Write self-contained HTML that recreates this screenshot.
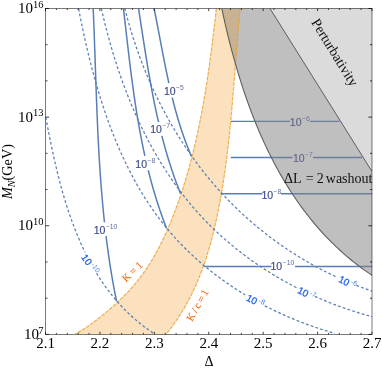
<!DOCTYPE html>
<html><head><meta charset="utf-8"><title>plot</title>
<style>html,body{margin:0;padding:0;background:#fff;width:382px;height:370px;overflow:hidden;font-family:"Liberation Sans",sans-serif}</style>
</head><body>
<svg width="382" height="370" viewBox="0 0 382 370" style="position:absolute;left:0;top:0;will-change:transform">
<defs><clipPath id="cp"><rect x="45.50" y="8.50" width="326.50" height="325.90"/></clipPath></defs>
<g clip-path="url(#cp)">
<path d="M216.33,8.61 L216.00,11.61 L215.66,14.61 L215.32,17.61 L214.98,20.61 L214.63,23.62 L214.28,26.62 L213.93,29.62 L213.57,32.63 L213.21,35.63 L212.84,38.64 L212.47,41.64 L212.10,44.64 L211.72,47.65 L211.33,50.65 L210.94,53.66 L210.54,56.66 L210.14,59.67 L209.73,62.67 L209.31,65.67 L208.88,68.67 L208.45,71.67 L208.01,74.67 L207.57,77.67 L207.11,80.67 L206.65,83.66 L206.18,86.66 L205.70,89.65 L205.21,92.64 L204.71,95.63 L204.20,98.62 L203.69,101.61 L203.16,104.59 L202.62,107.57 L202.07,110.55 L201.52,113.53 L200.95,116.50 L200.37,119.48 L199.77,122.45 L199.17,125.41 L198.55,128.38 L197.93,131.34 L197.29,134.30 L196.63,137.25 L195.97,140.20 L195.29,143.15 L194.59,146.10 L193.89,149.04 L193.17,151.98 L192.43,154.91 L191.68,157.84 L190.92,160.77 L190.14,163.69 L189.35,166.61 L188.54,169.52 L187.71,172.43 L186.87,175.33 L186.02,178.23 L185.14,181.13 L184.25,184.02 L183.35,186.90 L182.42,189.79 L181.48,192.66 L180.52,195.53 L179.55,198.40 L178.55,201.26 L177.54,204.11 L176.50,206.96 L175.45,209.80 L174.38,212.64 L173.29,215.47 L172.18,218.29 L171.05,221.11 L169.90,223.92 L168.72,226.71 L167.52,229.50 L166.30,232.27 L165.05,235.04 L163.77,237.78 L162.46,240.52 L161.13,243.24 L159.77,245.94 L158.37,248.62 L156.95,251.29 L155.50,253.93 L154.01,256.56 L152.48,259.16 L150.93,261.74 L149.34,264.30 L147.71,266.83 L146.04,269.34 L144.34,271.82 L142.59,274.27 L140.81,276.70 L138.98,279.09 L137.12,281.46 L135.21,283.79 L133.25,286.09 L131.26,288.36 L129.22,290.60 L127.14,292.80 L125.02,294.98 L122.87,297.12 L120.69,299.24 L118.48,301.33 L116.25,303.39 L113.99,305.43 L111.71,307.45 L109.41,309.44 L107.09,311.41 L104.76,313.36 L102.42,315.29 L100.07,317.20 L97.70,319.08 L95.31,320.93 L92.90,322.74 L90.47,324.51 L88.00,326.24 L85.51,327.92 L82.98,329.54 L80.42,331.11 L77.81,332.62 L75.17,334.06 L165.48,334.96 L167.44,332.55 L169.36,330.12 L171.23,327.67 L173.06,325.20 L174.84,322.71 L176.58,320.19 L178.28,317.66 L179.93,315.11 L181.54,312.54 L183.12,309.95 L184.65,307.34 L186.15,304.71 L187.60,302.07 L189.02,299.40 L190.40,296.73 L191.75,294.03 L193.05,291.32 L194.33,288.59 L195.57,285.85 L196.78,283.10 L197.95,280.33 L199.09,277.55 L200.20,274.75 L201.29,271.94 L202.34,269.12 L203.36,266.29 L204.35,263.44 L205.32,260.59 L206.25,257.72 L207.17,254.85 L208.05,251.96 L208.92,249.06 L209.75,246.16 L210.57,243.25 L211.36,240.33 L212.13,237.40 L212.88,234.46 L213.60,231.52 L214.31,228.57 L215.00,225.62 L215.67,222.66 L216.32,219.69 L216.96,216.72 L217.58,213.75 L218.18,210.77 L218.77,207.79 L219.35,204.80 L219.91,201.82 L220.45,198.83 L220.99,195.83 L221.51,192.84 L222.01,189.84 L222.51,186.84 L222.99,183.84 L223.46,180.83 L223.92,177.82 L224.36,174.81 L224.80,171.80 L225.22,168.79 L225.64,165.77 L226.04,162.75 L226.44,159.73 L226.82,156.71 L227.19,153.69 L227.56,150.67 L227.92,147.64 L228.26,144.62 L228.60,141.59 L228.94,138.56 L229.26,135.54 L229.58,132.51 L229.89,129.48 L230.19,126.45 L230.49,123.42 L230.78,120.38 L231.06,117.35 L231.34,114.32 L231.61,111.29 L231.88,108.26 L232.15,105.23 L232.40,102.19 L232.66,99.16 L232.91,96.13 L233.16,93.10 L233.40,90.07 L233.64,87.04 L233.88,84.02 L234.12,80.99 L234.35,77.96 L234.59,74.94 L234.82,71.91 L235.05,68.89 L235.28,65.87 L235.51,62.85 L235.73,59.83 L235.96,56.82 L236.19,53.80 L236.42,50.79 L236.65,47.78 L236.88,44.77 L237.11,41.76 L237.34,38.76 L237.58,35.76 L237.82,32.76 L238.06,29.76 L238.30,26.77 L238.55,23.77 L238.80,20.79 L239.05,17.80 L239.31,14.82 L239.58,11.84 L239.84,8.86 Z" fill="#f5b45a" fill-opacity="0.40" stroke="none"/>
<path d="M216.33,8.61 L216.00,11.61 L215.66,14.61 L215.32,17.61 L214.98,20.61 L214.63,23.62 L214.28,26.62 L213.93,29.62 L213.57,32.63 L213.21,35.63 L212.84,38.64 L212.47,41.64 L212.10,44.64 L211.72,47.65 L211.33,50.65 L210.94,53.66 L210.54,56.66 L210.14,59.67 L209.73,62.67 L209.31,65.67 L208.88,68.67 L208.45,71.67 L208.01,74.67 L207.57,77.67 L207.11,80.67 L206.65,83.66 L206.18,86.66 L205.70,89.65 L205.21,92.64 L204.71,95.63 L204.20,98.62 L203.69,101.61 L203.16,104.59 L202.62,107.57 L202.07,110.55 L201.52,113.53 L200.95,116.50 L200.37,119.48 L199.77,122.45 L199.17,125.41 L198.55,128.38 L197.93,131.34 L197.29,134.30 L196.63,137.25 L195.97,140.20 L195.29,143.15 L194.59,146.10 L193.89,149.04 L193.17,151.98 L192.43,154.91 L191.68,157.84 L190.92,160.77 L190.14,163.69 L189.35,166.61 L188.54,169.52 L187.71,172.43 L186.87,175.33 L186.02,178.23 L185.14,181.13 L184.25,184.02 L183.35,186.90 L182.42,189.79 L181.48,192.66 L180.52,195.53 L179.55,198.40 L178.55,201.26 L177.54,204.11 L176.50,206.96 L175.45,209.80 L174.38,212.64 L173.29,215.47 L172.18,218.29 L171.05,221.11 L169.90,223.92 L168.72,226.71 L167.52,229.50 L166.30,232.27 L165.05,235.04 L163.77,237.78 L162.46,240.52 L161.13,243.24 L159.77,245.94 L158.37,248.62 L156.95,251.29 L155.50,253.93 L154.01,256.56 L152.48,259.16 L150.93,261.74 L149.34,264.30 L147.71,266.83 L146.04,269.34 L144.34,271.82 L142.59,274.27 L140.81,276.70 L138.98,279.09 L137.12,281.46 L135.21,283.79 L133.25,286.09 L131.26,288.36 L129.22,290.60 L127.14,292.80 L125.02,294.98 L122.87,297.12 L120.69,299.24 L118.48,301.33 L116.25,303.39 L113.99,305.43 L111.71,307.45 L109.41,309.44 L107.09,311.41 L104.76,313.36 L102.42,315.29 L100.07,317.20 L97.70,319.08 L95.31,320.93 L92.90,322.74 L90.47,324.51 L88.00,326.24 L85.51,327.92 L82.98,329.54 L80.42,331.11 L77.81,332.62 L75.17,334.06" fill="none" stroke="#eeae52" stroke-width="1.2" stroke-dasharray="3.8 1.1"/>
<path d="M239.84,8.86 L239.58,11.84 L239.31,14.82 L239.05,17.80 L238.80,20.79 L238.55,23.77 L238.30,26.77 L238.06,29.76 L237.82,32.76 L237.58,35.76 L237.34,38.76 L237.11,41.76 L236.88,44.77 L236.65,47.78 L236.42,50.79 L236.19,53.80 L235.96,56.82 L235.73,59.83 L235.51,62.85 L235.28,65.87 L235.05,68.89 L234.82,71.91 L234.59,74.94 L234.35,77.96 L234.12,80.99 L233.88,84.02 L233.64,87.04 L233.40,90.07 L233.16,93.10 L232.91,96.13 L232.66,99.16 L232.40,102.19 L232.15,105.23 L231.88,108.26 L231.61,111.29 L231.34,114.32 L231.06,117.35 L230.78,120.38 L230.49,123.42 L230.19,126.45 L229.89,129.48 L229.58,132.51 L229.26,135.54 L228.94,138.56 L228.60,141.59 L228.26,144.62 L227.92,147.64 L227.56,150.67 L227.19,153.69 L226.82,156.71 L226.44,159.73 L226.04,162.75 L225.64,165.77 L225.22,168.79 L224.80,171.80 L224.36,174.81 L223.92,177.82 L223.46,180.83 L222.99,183.84 L222.51,186.84 L222.01,189.84 L221.51,192.84 L220.99,195.83 L220.45,198.83 L219.91,201.82 L219.35,204.80 L218.77,207.79 L218.18,210.77 L217.58,213.75 L216.96,216.72 L216.32,219.69 L215.67,222.66 L215.00,225.62 L214.31,228.57 L213.60,231.52 L212.88,234.46 L212.13,237.40 L211.36,240.33 L210.57,243.25 L209.75,246.16 L208.92,249.06 L208.05,251.96 L207.17,254.85 L206.25,257.72 L205.32,260.59 L204.35,263.44 L203.36,266.29 L202.34,269.12 L201.29,271.94 L200.20,274.75 L199.09,277.55 L197.95,280.33 L196.78,283.10 L195.57,285.85 L194.33,288.59 L193.05,291.32 L191.75,294.03 L190.40,296.73 L189.02,299.40 L187.60,302.07 L186.15,304.71 L184.65,307.34 L183.12,309.95 L181.54,312.54 L179.93,315.11 L178.28,317.66 L176.58,320.19 L174.84,322.71 L173.06,325.20 L171.23,327.67 L169.36,330.12 L167.44,332.55 L165.48,334.96" fill="none" stroke="#eeae52" stroke-width="1.2" stroke-dasharray="3.8 1.1"/>
<path d="M93.18,8.62 L93.23,9.82 L93.28,11.02 L93.33,12.22 L93.38,13.42 L93.43,14.61 L93.48,15.81 L93.53,17.01 L93.58,18.21 L93.63,19.41 L93.68,20.61 L93.73,21.81 L93.77,23.01 L93.82,24.21 L93.87,25.41 L93.92,26.60 L93.96,27.80 L94.01,29.00 L94.05,30.20 L94.10,31.40 L94.14,32.60 L94.19,33.80 L94.23,35.00 L94.28,36.20 L94.32,37.40 L94.36,38.60 L94.41,39.80 L94.45,40.99 L94.49,42.19 L94.54,43.39 L94.58,44.59 L94.62,45.79 L94.66,46.99 L94.71,48.19 L94.75,49.39 L94.79,50.59 L94.83,51.79 L94.87,52.99 L94.91,54.19 L94.95,55.39 L95.00,56.59 L95.04,57.78 L95.08,58.98 L95.12,60.18 L95.16,61.38 L95.20,62.58 L95.24,63.78 L95.28,64.98 L95.32,66.18 L95.36,67.38 L95.41,68.58 L95.45,69.78 L95.49,70.98 L95.53,72.18 L95.57,73.38 L95.61,74.57 L95.65,75.77 L95.69,76.97 L95.73,78.17 L95.78,79.37 L95.82,80.57 L95.86,81.77 L95.90,82.97 L95.94,84.17 L95.98,85.37 L96.03,86.57 L96.07,87.77 L96.11,88.97 L96.15,90.17 L96.20,91.36 L96.24,92.56 L96.28,93.76 L96.33,94.96 L96.37,96.16 L96.42,97.36 L96.46,98.56 L96.51,99.76 L96.55,100.96 L96.60,102.16 L96.64,103.36 L96.69,104.56 L96.73,105.75 L96.78,106.95 L96.83,108.15 L96.88,109.35 L96.92,110.55 L96.97,111.75 L97.02,112.95 L97.07,114.15 L97.12,115.35 L97.17,116.55 L97.22,117.74 L97.27,118.94 L97.32,120.14 L97.37,121.34 L97.42,122.54 L97.48,123.74 L97.53,124.94 L97.58,126.14 L97.64,127.34 L97.69,128.53 L97.75,129.73 L97.80,130.93 L97.86,132.13 L97.92,133.33 L97.97,134.53 L98.03,135.73 L98.09,136.92 L98.15,138.12 L98.21,139.32 L98.27,140.52 L98.33,141.72 L98.39,142.92 L98.46,144.12 L98.52,145.31 L98.58,146.51 L98.65,147.71 L98.71,148.91 L98.78,150.11 L98.84,151.30 L98.91,152.50 L98.98,153.70 L99.05,154.90 L99.12,156.10 L99.19,157.29 L99.26,158.49 L99.33,159.69 L99.40,160.89 L99.48,162.09 L99.55,163.28 L99.63,164.48 L99.70,165.68 L99.78,166.88 L99.86,168.07 L99.94,169.27 L100.02,170.47 L100.10,171.67 L100.18,172.86 L100.26,174.06 L100.34,175.26 L100.43,176.45 L100.51,177.65 L100.60,178.85 L100.69,180.05 L100.78,181.24 L100.87,182.44 L100.96,183.64 L101.05,184.83 L101.14,186.03 L101.23,187.22 L101.33,188.42 L101.42,189.62 L101.52,190.81 L101.62,192.01 L101.71,193.21 L101.81,194.40 L101.91,195.60 L102.02,196.79 L102.12,197.99 L102.22,199.18 L102.33,200.38 L102.44,201.57 L102.54,202.77 L102.65,203.96 L102.76,205.16 L102.87,206.35 L102.99,207.55 L103.10,208.74 L103.21,209.94 L103.33,211.13 L103.45,212.33 L103.57,213.52 L103.69,214.71 L103.81,215.91 L103.93,217.10 L104.05,218.30 L104.18,219.49 L104.30,220.68 L104.43,221.88 L104.48,222.27 M106.07,236.18 L106.22,237.37 L106.37,238.56 L106.52,239.75 L106.67,240.95 L106.82,242.14 L106.97,243.33 L107.13,244.52 L107.28,245.71 L107.44,246.90 L107.60,248.08 L107.76,249.27 L107.92,250.46 L108.09,251.65 L108.26,252.84 L108.42,254.03 L108.59,255.22 L108.76,256.40 L108.94,257.59 L109.11,258.78 L109.29,259.97 L109.46,261.15 L109.64,262.34 L109.82,263.52 L110.01,264.71 L110.19,265.90 L110.38,267.08 L110.56,268.27 L110.75,269.45 L110.95,270.64 L111.14,271.82 L111.33,273.01 L111.53,274.19 L111.73,275.37 L111.93,276.56 L112.13,277.74 L112.33,278.92 L112.54,280.10 L112.75,281.29 L112.96,282.47 L113.17,283.65 L113.38,284.83 L113.59,286.01 L113.81,287.19 L114.03,288.37 L114.25,289.55 L114.47,290.73 L114.70,291.91 L114.92,293.09 L115.15,294.26 L115.38,295.44 L115.61,296.62 L115.85,297.80 L116.08,298.97 L116.32,300.15 L116.56,301.33 L116.56,301.33" fill="none" stroke="#587eb6" stroke-width="1.5"/>
<path d="M123.46,8.63 L123.60,9.83 L123.74,11.02 L123.88,12.21 L124.02,13.40 L124.15,14.59 L124.29,15.79 L124.43,16.98 L124.57,18.17 L124.70,19.36 L124.84,20.56 L124.97,21.75 L125.11,22.94 L125.25,24.13 L125.38,25.32 L125.52,26.52 L125.66,27.71 L125.79,28.90 L125.93,30.09 L126.07,31.29 L126.20,32.48 L126.34,33.67 L126.48,34.86 L126.61,36.05 L126.75,37.25 L126.89,38.44 L127.02,39.63 L127.16,40.82 L127.30,42.01 L127.44,43.21 L127.58,44.40 L127.71,45.59 L127.85,46.78 L127.99,47.97 L128.13,49.17 L128.27,50.36 L128.41,51.55 L128.56,52.74 L128.70,53.93 L128.84,55.12 L128.98,56.32 L129.12,57.51 L129.27,58.70 L129.41,59.89 L129.56,61.08 L129.70,62.27 L129.85,63.46 L130.00,64.65 L130.14,65.85 L130.29,67.04 L130.44,68.23 L130.59,69.42 L130.74,70.61 L130.89,71.80 L131.04,72.99 L131.19,74.18 L131.35,75.37 L131.50,76.56 L131.66,77.75 L131.81,78.94 L131.97,80.13 L132.13,81.32 L132.29,82.51 L132.45,83.70 L132.61,84.89 L132.77,86.08 L132.93,87.26 L133.10,88.45 L133.26,89.64 L133.43,90.83 L133.59,92.02 L133.76,93.21 L133.93,94.39 L134.10,95.58 L134.27,96.77 L134.45,97.96 L134.62,99.14 L134.80,100.33 L134.97,101.52 L135.15,102.71 L135.33,103.89 L135.51,105.08 L135.69,106.26 L135.88,107.45 L136.06,108.64 L136.25,109.82 L136.44,111.01 L136.63,112.19 L136.82,113.38 L137.01,114.56 L137.20,115.74 L137.40,116.93 L137.60,118.11 L137.80,119.30 L138.00,120.48 L138.20,121.66 L138.40,122.84 L138.61,124.03 L138.81,125.21 L139.02,126.39 L139.23,127.57 L139.45,128.75 L139.66,129.93 L139.88,131.11 L140.09,132.29 L140.31,133.47 L140.53,134.65 L140.76,135.83 L140.98,137.01 L141.21,138.19 L141.44,139.37 L141.67,140.54 L141.90,141.72 L142.14,142.90 L142.37,144.08 L142.61,145.25 L142.86,146.43 L143.10,147.60 L143.34,148.78 L143.59,149.95 L143.84,151.12 L144.09,152.30 L144.35,153.47 L144.60,154.64 L144.86,155.81 L144.86,155.81 M148.24,170.22 L148.53,171.39 L148.83,172.55 L149.12,173.71 L149.42,174.88 L149.72,176.04 L150.02,177.20 L150.33,178.36 L150.64,179.52 L150.95,180.68 L151.26,181.84 L151.58,182.99 L151.90,184.15 L152.22,185.31 L152.55,186.46 L152.87,187.62 L153.20,188.77 L153.54,189.92 L153.87,191.07 L154.21,192.22 L154.56,193.38 L154.90,194.53 L155.25,195.67 L155.60,196.82 L155.95,197.97 L156.31,199.11 L156.67,200.26 L157.03,201.40 L157.40,202.55 L157.76,203.69 L158.14,204.83 L158.51,205.97 L158.89,207.11 L159.27,208.25 L159.65,209.38 L160.04,210.52 L160.43,211.65 L160.82,212.79 L161.22,213.92 L161.62,215.05 L162.02,216.18 L162.43,217.31 L162.84,218.44 L163.25,219.56 L163.67,220.69 L164.09,221.81 L164.51,222.94 L164.94,224.06 L165.37,225.18 L165.80,226.30 L166.23,227.42 L166.67,228.53 L166.67,228.53" fill="none" stroke="#587eb6" stroke-width="1.5"/>
<path d="M138.55,8.62 L138.73,9.81 L138.92,10.99 L139.10,12.18 L139.28,13.36 L139.47,14.55 L139.65,15.74 L139.83,16.92 L140.02,18.11 L140.20,19.29 L140.38,20.48 L140.57,21.67 L140.75,22.85 L140.93,24.04 L141.11,25.22 L141.30,26.41 L141.48,27.60 L141.66,28.78 L141.84,29.97 L142.03,31.15 L142.21,32.34 L142.39,33.53 L142.58,34.71 L142.76,35.90 L142.94,37.08 L143.13,38.27 L143.31,39.46 L143.50,40.64 L143.68,41.83 L143.87,43.01 L144.05,44.20 L144.24,45.38 L144.43,46.57 L144.61,47.75 L144.80,48.94 L144.99,50.12 L145.18,51.31 L145.37,52.49 L145.56,53.68 L145.75,54.86 L145.94,56.05 L146.13,57.23 L146.33,58.42 L146.52,59.60 L146.71,60.79 L146.91,61.97 L147.10,63.15 L147.30,64.34 L147.50,65.52 L147.70,66.70 L147.90,67.89 L148.10,69.07 L148.30,70.25 L148.50,71.44 L148.70,72.62 L148.91,73.80 L149.11,74.98 L149.32,76.17 L149.53,77.35 L149.74,78.53 L149.95,79.71 L150.16,80.89 L150.37,82.07 L150.59,83.25 L150.80,84.44 L151.02,85.62 L151.23,86.80 L151.45,87.98 L151.67,89.15 L151.89,90.33 L152.12,91.51 L152.34,92.69 L152.57,93.87 L152.80,95.05 L153.03,96.23 L153.26,97.40 L153.49,98.58 L153.72,99.76 L153.96,100.94 L154.20,102.11 L154.43,103.29 L154.68,104.46 L154.92,105.64 L155.16,106.81 L155.41,107.99 L155.66,109.16 L155.91,110.34 L156.16,111.51 L156.41,112.68 L156.67,113.85 L156.92,115.03 L157.18,116.20 L157.44,117.37 L157.71,118.54 L157.97,119.71 L158.24,120.88 L158.51,122.05 L158.51,122.05 M161.92,136.04 L162.22,137.20 L162.52,138.36 L162.82,139.52 L163.13,140.68 L163.44,141.84 L163.75,143.00 L164.06,144.16 L164.38,145.32 L164.70,146.48 L165.02,147.63 L165.35,148.79 L165.67,149.94 L166.00,151.09 L166.34,152.25 L166.67,153.40 L167.01,154.55 L167.35,155.70 L167.70,156.85 L168.05,158.00 L168.40,159.15 L168.75,160.29 L169.11,161.44 L169.46,162.58 L169.83,163.73 L170.19,164.87 L170.56,166.01 L170.93,167.16 L171.30,168.30 L171.68,169.43 L172.06,170.57 L172.45,171.71 L172.83,172.85 L173.22,173.98 L173.62,175.11 L174.01,176.25 L174.41,177.38 L174.82,178.51 L175.22,179.64 L175.63,180.76 L176.05,181.89 L176.46,183.02 L176.88,184.14 L177.30,185.26 L177.73,186.39 L178.16,187.51 L178.60,188.63 L179.03,189.74 L179.47,190.86 L179.92,191.97 L180.37,193.09 L180.67,193.83" fill="none" stroke="#587eb6" stroke-width="1.5"/>
<path d="M154.09,8.61 L154.33,9.78 L154.57,10.96 L154.81,12.13 L155.04,13.31 L155.28,14.49 L155.51,15.66 L155.75,16.84 L155.98,18.02 L156.21,19.20 L156.44,20.37 L156.67,21.55 L156.90,22.73 L157.13,23.91 L157.36,25.08 L157.59,26.26 L157.81,27.44 L158.04,28.62 L158.27,29.80 L158.49,30.98 L158.72,32.16 L158.94,33.33 L159.17,34.51 L159.39,35.69 L159.61,36.87 L159.84,38.05 L160.06,39.23 L160.29,40.41 L160.51,41.59 L160.74,42.77 L160.96,43.94 L161.18,45.12 L161.41,46.30 L161.63,47.48 L161.86,48.66 L162.09,49.84 L162.31,51.02 L162.54,52.19 L162.77,53.37 L163.00,54.55 L163.22,55.73 L163.45,56.91 L163.68,58.08 L163.92,59.26 L164.15,60.44 L164.38,61.62 L164.61,62.79 L164.85,63.97 L165.09,65.15 L165.32,66.32 L165.56,67.50 L165.80,68.67 L166.04,69.85 L166.28,71.03 L166.53,72.20 L166.77,73.38 L167.02,74.55 L167.27,75.72 L167.52,76.90 L167.77,78.07 L168.02,79.24 L168.27,80.42 L168.53,81.59 L168.79,82.76 L168.87,83.15 M172.24,97.56 L172.52,98.73 L172.81,99.89 L173.11,101.06 L173.40,102.22 L173.70,103.38 L174.00,104.54 L174.31,105.71 L174.61,106.87 L174.92,108.02 L175.24,109.18 L175.55,110.34 L175.87,111.50 L176.19,112.65 L176.52,113.81 L176.85,114.96 L177.17,116.12 L177.51,117.27 L177.85,118.42 L178.19,119.57 L178.54,120.72 L178.88,121.87 L179.24,123.02 L179.59,124.16 L179.95,125.31 L180.31,126.45 L180.68,127.59 L181.05,128.74 L181.42,129.88 L181.80,131.01 L182.18,132.15 L182.57,133.29 L182.96,134.42 L183.35,135.56 L183.75,136.69 L184.15,137.82 L184.56,138.95 L184.97,140.08 L185.38,141.20 L185.80,142.33 L186.23,143.45 L186.65,144.57 L187.08,145.69 L187.52,146.81 L187.96,147.93 L188.41,149.04 L188.86,150.15 L189.31,151.26 L189.77,152.37 L190.23,153.48 L190.70,154.58 L191.18,155.68 L191.49,156.42" fill="none" stroke="#587eb6" stroke-width="1.5"/>
<path d="M231.00,121.40 H290.00 M309.80,121.40 H339.50" fill="none" stroke="#587eb6" stroke-width="1.4"/>
<path d="M230.70,157.50 H292.60 M313.00,157.50 H362.00" fill="none" stroke="#587eb6" stroke-width="1.4"/>
<path d="M220.80,193.70 H262.30 M281.00,193.70 H372.00" fill="none" stroke="#587eb6" stroke-width="1.4"/>
<path d="M204.20,266.50 H271.40 M295.00,266.50 H372.00" fill="none" stroke="#587eb6" stroke-width="1.4"/>
<path d="M45.79,117.45 L46.01,118.63 L46.23,119.81 L46.45,120.99 L46.68,122.16 L46.90,123.34 L47.13,124.52 L47.35,125.70 L47.58,126.88 L47.81,128.06 L48.04,129.24 L48.27,130.41 L48.50,131.59 L48.73,132.77 L48.96,133.95 L49.19,135.12 L49.43,136.30 L49.66,137.48 L49.90,138.65 L50.14,139.83 L50.38,141.00 L50.62,142.18 L50.86,143.36 L51.11,144.53 L51.35,145.70 L51.60,146.88 L51.85,148.05 L52.09,149.23 L52.34,150.40 L52.60,151.57 L52.85,152.75 L53.11,153.92 L53.36,155.09 L53.62,156.26 L53.88,157.43 L54.14,158.61 L54.41,159.78 L54.68,160.95 L54.94,162.12 L55.21,163.29 L55.48,164.45 L55.76,165.62 L56.03,166.79 L56.31,167.96 L56.59,169.13 L56.87,170.29 L57.16,171.46 L57.44,172.62 L57.73,173.79 L58.02,174.95 L58.31,176.12 L58.61,177.28 L58.90,178.44 L59.20,179.60 L59.50,180.77 L59.81,181.93 L60.12,183.09 L60.42,184.25 L60.73,185.41 L61.05,186.56 L61.37,187.72 L61.69,188.88 L62.01,190.03 L62.33,191.19 L62.66,192.34 L62.99,193.50 L63.32,194.65 L63.66,195.80 L64.00,196.95 L64.34,198.10 L64.68,199.25 L65.03,200.40 L65.38,201.55 L65.74,202.70 L66.09,203.84 L66.45,204.99 L66.81,206.13 L67.18,207.27 L67.55,208.41 L67.92,209.56 L68.30,210.69 L68.68,211.83 L69.06,212.97 L69.45,214.11 L69.83,215.24 L70.23,216.38 L70.62,217.51 L71.02,218.64 L71.43,219.77 L71.83,220.90 L72.25,222.03 L72.66,223.15 L73.08,224.28 L73.50,225.40 L73.92,226.52 L74.35,227.64 L74.79,228.76 L75.22,229.88 L75.67,231.00 L76.11,232.11 L76.56,233.22 L77.01,234.33 L77.47,235.44 L77.93,236.55 L78.39,237.66 L78.87,238.76 L79.34,239.86 L79.82,240.97 L80.30,242.06 L80.79,243.16 L81.28,244.26 L81.78,245.35 L82.27,246.44 L82.78,247.53 L83.29,248.61 L83.80,249.70 L84.32,250.78 L84.84,251.86 L85.02,252.22 M96.54,273.26 L97.17,274.28 L97.81,275.30 L98.45,276.32 L99.09,277.33 L99.75,278.34 L100.40,279.34 L101.06,280.34 L101.73,281.34 L102.41,282.33 L103.09,283.32 L103.77,284.31 L104.46,285.29 L105.16,286.26 L105.86,287.24 L106.56,288.21 L107.28,289.17 L107.99,290.14 L108.72,291.09 L109.45,292.05 L110.18,293.00 L110.92,293.94 L111.67,294.88 L112.42,295.81 L113.18,296.74 L113.94,297.67 L114.71,298.59 L115.49,299.51 L116.27,300.42 L117.05,301.32 L117.85,302.23 L118.65,303.12 L119.45,304.02 L120.26,304.90 L121.07,305.78 L121.89,306.66 L122.72,307.53 L123.55,308.39 L124.39,309.25 L125.23,310.10 L126.08,310.96 L126.93,311.79 L127.79,312.63 L128.66,313.46 L129.53,314.29 L130.40,315.11 L131.29,315.92 L132.17,316.73 L133.07,317.53 L133.97,318.33 L134.87,319.12 L135.78,319.90 L136.69,320.68 L137.61,321.45 L138.54,322.21 L139.46,322.98 L140.40,323.72 L141.34,324.47 L142.29,325.21 L143.24,325.94 L144.19,326.67 L145.15,327.39 L146.12,328.10 L147.09,328.81 L148.06,329.51 L149.04,330.20 L150.03,330.89 L151.02,331.56 L152.01,332.24 L153.01,332.90 L154.01,333.56 L154.68,334.00" fill="none" stroke="#587eb6" stroke-width="1.25" stroke-dasharray="2.8 2.2"/>
<path d="M78.62,8.79 L78.84,9.97 L79.07,11.14 L79.30,12.32 L79.53,13.50 L79.76,14.68 L80.00,15.85 L80.23,17.03 L80.46,18.21 L80.70,19.38 L80.94,20.56 L81.18,21.74 L81.42,22.91 L81.66,24.09 L81.90,25.26 L82.15,26.44 L82.39,27.61 L82.64,28.79 L82.89,29.96 L83.14,31.13 L83.39,32.31 L83.64,33.48 L83.90,34.65 L84.15,35.83 L84.41,37.00 L84.67,38.17 L84.93,39.34 L85.19,40.51 L85.45,41.68 L85.72,42.85 L85.98,44.02 L86.25,45.19 L86.52,46.36 L86.79,47.53 L87.07,48.70 L87.34,49.87 L87.62,51.04 L87.90,52.20 L88.18,53.37 L88.46,54.54 L88.74,55.70 L89.03,56.87 L89.31,58.03 L89.60,59.20 L89.89,60.36 L90.18,61.53 L90.48,62.69 L90.77,63.85 L91.07,65.02 L91.37,66.18 L91.67,67.34 L91.97,68.50 L92.28,69.66 L92.58,70.82 L92.89,71.98 L93.20,73.14 L93.52,74.30 L93.83,75.46 L94.15,76.61 L94.47,77.77 L94.79,78.93 L95.11,80.08 L95.44,81.24 L95.76,82.39 L96.09,83.55 L96.42,84.70 L96.76,85.85 L97.09,87.00 L97.43,88.16 L97.77,89.31 L98.11,90.46 L98.46,91.61 L98.80,92.76 L99.15,93.90 L99.50,95.05 L99.86,96.20 L100.21,97.34 L100.57,98.49 L100.93,99.63 L101.29,100.78 L101.66,101.92 L102.02,103.06 L102.39,104.21 L102.77,105.35 L103.14,106.49 L103.52,107.63 L103.90,108.76 L104.28,109.90 L104.66,111.04 L105.05,112.17 L105.44,113.31 L105.83,114.44 L106.22,115.58 L106.62,116.71 L107.02,117.84 L107.42,118.97 L107.83,120.10 L108.23,121.23 L108.64,122.36 L109.06,123.49 L109.47,124.61 L109.89,125.74 L110.31,126.86 L110.73,127.98 L111.16,129.10 L111.59,130.22 L112.02,131.34 L112.46,132.46 L112.89,133.58 L113.33,134.70 L113.78,135.81 L114.22,136.93 L114.67,138.04 L115.12,139.15 L115.58,140.26 L116.04,141.37 L116.50,142.48 L116.96,143.59 L117.43,144.69 L117.89,145.80 L118.37,146.90 L118.84,148.00 L119.32,149.10 L119.81,150.20 L120.29,151.30 L120.78,152.39 L121.27,153.49 L121.76,154.58 L122.26,155.67 L122.76,156.76 L123.27,157.85 L123.77,158.94 L124.28,160.03 L124.80,161.11 L125.31,162.19 L125.83,163.28 L126.36,164.35 L126.88,165.43 L127.42,166.51 L127.95,167.59 L128.49,168.66 L129.03,169.73 L129.57,170.80 L130.12,171.87 L130.67,172.93 L131.22,174.00 L131.78,175.06 L132.34,176.12 L132.91,177.18 L133.47,178.24 L134.04,179.29 L134.62,180.34 L135.20,181.40 L135.78,182.44 L136.37,183.49 L136.96,184.54 L137.55,185.58 L138.15,186.62 L138.75,187.66 L139.35,188.70 L139.96,189.73 L140.57,190.76 L141.19,191.80 L141.81,192.82 L142.43,193.85 L143.06,194.87 L143.69,195.89 L144.32,196.91 L144.96,197.93 L145.60,198.94 L146.25,199.95 L146.90,200.96 L147.55,201.97 L148.21,202.97 L148.87,203.97 L149.53,204.97 L150.20,205.97 L150.87,206.96 L151.55,207.95 L152.23,208.94 L152.92,209.93 L153.61,210.91 L154.30,211.89 L155.00,212.87 L155.70,213.84 L156.40,214.81 L157.11,215.78 L157.82,216.75 L158.54,217.71 L159.26,218.67 L159.99,219.62 L160.72,220.58 L161.45,221.53 L162.19,222.47 L162.93,223.42 L163.67,224.36 L164.42,225.29 L165.17,226.23 L165.93,227.16 L166.69,228.09 L167.46,229.01 L168.23,229.93 L169.00,230.85 L169.78,231.76 L170.56,232.67 L171.35,233.58 L172.14,234.48 L172.93,235.38 L173.73,236.28 L174.53,237.17 L175.33,238.06 L176.15,238.95 L176.96,239.83 L177.77,240.71 L178.60,241.59 L179.42,242.46 L180.25,243.33 L181.08,244.19 L181.91,245.05 L182.75,245.91 L183.59,246.77 L184.44,247.62 L185.29,248.47 L186.14,249.31 L187.00,250.15 L187.86,250.99 L188.72,251.82 L189.59,252.65 L190.46,253.48 L191.33,254.30 L192.21,255.12 L193.09,255.93 L193.97,256.75 L194.86,257.55 L195.75,258.36 L196.64,259.16 L197.54,259.96 L198.44,260.75 L199.34,261.54 L200.25,262.33 L201.15,263.12 L202.07,263.89 L202.98,264.67 L203.90,265.44 L204.82,266.21 L205.74,266.98 L206.67,267.74 L207.60,268.50 L208.54,269.25 L209.47,270.00 L210.41,270.75 L211.35,271.50 L212.30,272.24 L213.24,272.97 L214.19,273.71 L215.14,274.44 L216.10,275.16 L217.06,275.89 L218.02,276.61 L218.98,277.32 L219.95,278.03 L220.92,278.74 L221.89,279.44 L222.86,280.15 L223.84,280.84 L224.82,281.54 L225.80,282.23 L226.79,282.91 L227.77,283.60 L228.76,284.28 L229.75,284.95 L230.75,285.62 L231.74,286.29 L232.74,286.96 L233.74,287.62 L234.75,288.28 L235.75,288.93 L236.76,289.58 L237.77,290.23 L238.79,290.87 L239.80,291.51 L240.82,292.15 L241.84,292.78 L242.86,293.41 L243.88,294.03 L244.91,294.66 L245.25,294.86 M264.80,305.79 L265.87,306.34 L266.94,306.89 L268.01,307.43 L269.08,307.97 L270.15,308.50 L271.23,309.03 L272.31,309.56 L273.39,310.08 L274.47,310.61 L275.55,311.12 L276.64,311.64 L277.72,312.15 L278.81,312.65 L279.90,313.16 L280.99,313.66 L282.08,314.15 L283.18,314.65 L284.27,315.13 L285.37,315.62 L286.47,316.10 L287.57,316.58 L288.67,317.05 L289.78,317.52 L290.88,317.99 L291.99,318.45 L293.10,318.91 L294.21,319.37 L295.32,319.82 L296.43,320.27 L297.55,320.72 L298.66,321.16 L299.78,321.60 L300.90,322.03 L302.02,322.46 L303.14,322.89 L304.26,323.31 L305.39,323.73 L306.51,324.15 L307.64,324.56 L308.77,324.97 L309.90,325.37 L311.03,325.77 L312.16,326.17 L313.29,326.56 L314.43,326.96 L315.56,327.34 L316.70,327.73 L317.84,328.11 L318.98,328.48 L320.12,328.85 L321.26,329.22 L322.41,329.58 L323.55,329.95 L324.70,330.30 L325.84,330.66 L326.99,331.01 L328.14,331.35 L329.29,331.70 L330.44,332.03 L331.59,332.37 L332.75,332.70 L333.90,333.03 L334.67,333.24" fill="none" stroke="#587eb6" stroke-width="1.25" stroke-dasharray="2.8 2.2"/>
<path d="M101.36,8.50 L101.63,9.67 L101.89,10.84 L102.16,12.01 L102.43,13.18 L102.70,14.35 L102.97,15.52 L103.25,16.69 L103.53,17.85 L103.81,19.02 L104.09,20.19 L104.37,21.35 L104.66,22.52 L104.95,23.68 L105.24,24.85 L105.53,26.01 L105.83,27.17 L106.12,28.34 L106.42,29.50 L106.72,30.66 L107.03,31.82 L107.33,32.98 L107.64,34.14 L107.95,35.30 L108.26,36.46 L108.58,37.62 L108.90,38.77 L109.21,39.93 L109.54,41.09 L109.86,42.24 L110.18,43.40 L110.51,44.55 L110.84,45.70 L111.18,46.86 L111.51,48.01 L111.85,49.16 L112.19,50.31 L112.53,51.46 L112.88,52.61 L113.23,53.76 L113.57,54.91 L113.93,56.06 L114.28,57.20 L114.64,58.35 L115.00,59.49 L115.36,60.64 L115.72,61.78 L116.09,62.92 L116.45,64.07 L116.83,65.21 L117.20,66.35 L117.57,67.49 L117.95,68.63 L118.33,69.76 L118.72,70.90 L119.10,72.04 L119.49,73.17 L119.88,74.31 L120.27,75.44 L120.67,76.57 L121.07,77.71 L121.47,78.84 L121.87,79.97 L122.28,81.10 L122.69,82.23 L123.10,83.35 L123.51,84.48 L123.93,85.60 L124.35,86.73 L124.77,87.85 L125.19,88.98 L125.62,90.10 L126.05,91.22 L126.48,92.34 L126.91,93.46 L127.35,94.57 L127.79,95.69 L128.23,96.81 L128.68,97.92 L129.13,99.03 L129.58,100.15 L130.03,101.26 L130.49,102.37 L130.94,103.48 L131.40,104.58 L131.87,105.69 L132.33,106.80 L132.81,107.90 L133.28,109.00 L133.75,110.11 L134.23,111.21 L134.71,112.31 L135.20,113.40 L135.68,114.50 L136.17,115.60 L136.66,116.69 L137.16,117.78 L137.66,118.88 L138.16,119.97 L138.66,121.06 L139.17,122.14 L139.68,123.23 L140.19,124.31 L140.70,125.40 L141.22,126.48 L141.74,127.56 L142.27,128.64 L142.79,129.72 L143.32,130.80 L143.86,131.87 L144.39,132.94 L144.93,134.02 L145.47,135.09 L146.02,136.16 L146.56,137.23 L147.12,138.29 L147.67,139.36 L148.23,140.42 L148.79,141.48 L149.35,142.54 L149.92,143.60 L150.49,144.65 L151.06,145.71 L151.64,146.76 L152.21,147.81 L152.80,148.86 L153.38,149.91 L153.97,150.96 L154.56,152.00 L155.15,153.04 L155.75,154.08 L156.35,155.12 L156.95,156.16 L157.56,157.19 L158.17,158.23 L158.79,159.26 L159.40,160.29 L160.02,161.32 L160.65,162.34 L161.27,163.37 L161.90,164.39 L162.53,165.41 L163.17,166.42 L163.81,167.44 L164.45,168.45 L165.10,169.46 L165.75,170.47 L166.40,171.48 L167.06,172.48 L167.72,173.49 L168.38,174.49 L169.04,175.49 L169.71,176.48 L170.39,177.48 L171.06,178.47 L171.74,179.46 L172.42,180.44 L173.11,181.43 L173.80,182.41 L174.49,183.39 L175.19,184.37 L175.89,185.34 L176.59,186.32 L177.30,187.29 L178.01,188.25 L178.72,189.22 L179.44,190.18 L180.15,191.14 L180.88,192.10 L181.61,193.05 L182.34,194.01 L183.07,194.95 L183.81,195.90 L184.55,196.85 L185.29,197.79 L186.04,198.73 L186.79,199.66 L187.54,200.60 L188.30,201.52 L189.07,202.45 L189.83,203.38 L190.60,204.30 L191.37,205.22 L192.15,206.13 L192.93,207.05 L193.71,207.96 L194.49,208.86 L195.28,209.77 L196.08,210.67 L196.87,211.56 L197.67,212.46 L198.48,213.35 L199.28,214.24 L200.09,215.12 L200.91,216.01 L201.72,216.89 L202.55,217.76 L203.37,218.63 L204.20,219.50 L205.03,220.37 L205.86,221.23 L206.70,222.09 L207.54,222.95 L208.38,223.80 L209.23,224.65 L210.08,225.50 L210.93,226.34 L211.79,227.18 L212.65,228.02 L213.51,228.85 L214.38,229.68 L215.25,230.51 L216.12,231.34 L216.99,232.16 L217.87,232.97 L218.75,233.79 L219.64,234.60 L220.52,235.41 L221.41,236.21 L222.31,237.01 L223.20,237.81 L224.10,238.61 L225.00,239.40 L225.91,240.19 L226.82,240.97 L227.73,241.75 L228.64,242.53 L229.56,243.31 L230.48,244.08 L231.40,244.85 L232.32,245.61 L233.25,246.37 L234.18,247.13 L235.11,247.89 L236.05,248.64 L236.98,249.39 L237.93,250.13 L238.87,250.87 L239.81,251.61 L240.76,252.35 L241.71,253.08 L242.67,253.81 L243.62,254.53 L244.58,255.26 L245.54,255.97 L246.51,256.69 L247.47,257.40 L248.44,258.11 L249.41,258.81 L250.39,259.51 L251.36,260.21 L252.34,260.91 L253.32,261.60 L254.30,262.29 L255.29,262.97 L256.28,263.66 L257.27,264.33 L258.26,265.01 L259.25,265.68 L260.25,266.35 L261.25,267.01 L262.25,267.67 L263.26,268.33 L264.26,268.99 L265.27,269.64 L266.28,270.28 L267.29,270.93 L268.31,271.57 L269.32,272.21 L270.34,272.84 L271.36,273.47 L272.39,274.10 L273.41,274.72 L274.44,275.35 L275.47,275.96 L276.50,276.58 L277.53,277.19 L278.57,277.79 L279.60,278.40 L280.64,279.00 L281.68,279.59 L282.73,280.19 L283.77,280.78 L284.82,281.36 L285.87,281.95 L286.92,282.53 L287.97,283.10 L289.02,283.68 L290.08,284.25 L291.14,284.81 L292.20,285.37 L293.26,285.94 L294.32,286.49 L295.39,287.04 L296.46,287.59 L297.17,287.95 M314.85,296.40 L315.95,296.89 L317.05,297.37 L318.15,297.85 L319.25,298.33 L320.35,298.80 L321.46,299.27 L322.56,299.74 L323.67,300.20 L324.78,300.66 L325.89,301.12 L327.00,301.57 L328.11,302.02 L329.23,302.46 L330.34,302.90 L331.46,303.34 L332.58,303.78 L333.70,304.21 L334.82,304.64 L335.94,305.06 L337.06,305.48 L338.19,305.90 L339.31,306.31 L340.44,306.73 L341.57,307.13 L342.70,307.54 L343.83,307.94 L344.97,308.33 L346.10,308.73 L347.23,309.11 L348.37,309.50 L349.51,309.88 L350.65,310.26 L351.79,310.64 L352.93,311.01 L354.07,311.38 L355.21,311.74 L356.36,312.10 L357.50,312.46 L358.65,312.81 L359.80,313.16 L360.95,313.51 L362.10,313.85 L363.25,314.20 L364.40,314.53 L365.55,314.86 L366.70,315.19 L367.86,315.52 L369.02,315.84 L370.17,316.16 L371.33,316.47 L372.10,316.68" fill="none" stroke="#587eb6" stroke-width="1.25" stroke-dasharray="2.8 2.2"/>
<path d="M124.83,8.31 L125.12,9.48 L125.41,10.64 L125.71,11.80 L126.00,12.97 L126.30,14.13 L126.61,15.29 L126.92,16.45 L127.23,17.61 L127.54,18.77 L127.86,19.92 L128.18,21.08 L128.50,22.24 L128.83,23.39 L129.16,24.54 L129.49,25.70 L129.82,26.85 L130.16,28.00 L130.50,29.15 L130.85,30.30 L131.19,31.45 L131.54,32.60 L131.90,33.75 L132.25,34.89 L132.61,36.04 L132.97,37.18 L133.34,38.32 L133.71,39.47 L134.08,40.61 L134.45,41.75 L134.83,42.89 L135.21,44.02 L135.59,45.16 L135.97,46.30 L136.37,47.43 L136.76,48.57 L137.15,49.70 L137.55,50.83 L137.95,51.96 L138.35,53.09 L138.76,54.22 L139.17,55.35 L139.58,56.48 L140.00,57.60 L140.42,58.73 L140.84,59.85 L141.26,60.97 L141.69,62.09 L142.12,63.21 L142.56,64.33 L142.99,65.45 L143.43,66.57 L143.88,67.68 L144.32,68.80 L144.77,69.91 L145.22,71.02 L145.68,72.13 L146.14,73.24 L146.60,74.35 L147.06,75.46 L147.53,76.56 L147.99,77.67 L148.47,78.77 L148.94,79.87 L149.42,80.97 L149.90,82.07 L150.39,83.17 L150.88,84.26 L151.37,85.36 L151.86,86.45 L152.36,87.55 L152.85,88.64 L153.36,89.73 L153.86,90.82 L154.37,91.90 L154.88,92.99 L155.40,94.07 L155.92,95.16 L156.44,96.24 L156.96,97.32 L157.49,98.39 L158.01,99.47 L158.55,100.55 L159.08,101.62 L159.62,102.69 L160.16,103.76 L160.71,104.83 L161.25,105.90 L161.80,106.97 L162.36,108.03 L162.91,109.10 L163.47,110.16 L164.03,111.22 L164.60,112.28 L165.17,113.33 L165.74,114.39 L166.31,115.44 L166.89,116.50 L167.47,117.55 L168.05,118.60 L168.64,119.64 L169.23,120.69 L169.82,121.73 L170.42,122.77 L171.01,123.81 L171.62,124.85 L172.22,125.89 L172.83,126.92 L173.44,127.96 L174.05,128.99 L174.67,130.02 L175.28,131.05 L175.91,132.07 L176.53,133.10 L177.16,134.12 L177.79,135.14 L178.42,136.16 L179.06,137.18 L179.70,138.19 L180.34,139.20 L180.99,140.22 L181.64,141.22 L182.29,142.23 L182.95,143.24 L183.60,144.24 L184.27,145.24 L184.93,146.24 L185.59,147.24 L186.27,148.24 L186.94,149.23 L187.61,150.22 L188.29,151.21 L188.97,152.20 L189.66,153.18 L190.35,154.17 L191.04,155.15 L191.73,156.13 L192.43,157.11 L193.13,158.08 L193.83,159.05 L194.54,160.02 L195.25,160.99 L195.96,161.96 L196.67,162.92 L197.39,163.88 L198.11,164.84 L198.83,165.80 L199.56,166.76 L200.29,167.71 L201.02,168.66 L201.76,169.61 L202.50,170.55 L203.24,171.50 L203.98,172.44 L204.73,173.38 L205.48,174.31 L206.23,175.25 L206.99,176.18 L207.75,177.11 L208.51,178.03 L209.27,178.96 L210.04,179.88 L210.81,180.80 L211.59,181.72 L212.36,182.63 L213.14,183.55 L213.93,184.45 L214.71,185.36 L215.50,186.27 L216.29,187.17 L217.09,188.07 L217.89,188.96 L218.68,189.86 L219.49,190.75 L220.29,191.64 L221.10,192.53 L221.92,193.41 L222.73,194.29 L223.55,195.17 L224.37,196.04 L225.19,196.92 L226.02,197.79 L226.85,198.65 L227.68,199.52 L228.52,200.38 L229.35,201.24 L230.19,202.09 L231.04,202.95 L231.88,203.80 L232.73,204.65 L233.58,205.49 L234.44,206.33 L235.30,207.17 L236.16,208.01 L237.02,208.84 L237.88,209.68 L238.75,210.50 L239.62,211.33 L240.50,212.15 L241.37,212.97 L242.25,213.79 L243.14,214.60 L244.02,215.41 L244.91,216.22 L245.80,217.03 L246.69,217.83 L247.58,218.63 L248.48,219.42 L249.38,220.22 L250.29,221.01 L251.19,221.80 L252.10,222.58 L253.01,223.36 L253.92,224.14 L254.84,224.91 L255.76,225.69 L256.68,226.46 L257.60,227.22 L258.53,227.99 L259.46,228.75 L260.39,229.50 L261.32,230.26 L262.26,231.01 L263.19,231.76 L264.14,232.50 L265.08,233.24 L266.02,233.98 L266.97,234.72 L267.92,235.45 L268.88,236.18 L269.83,236.91 L270.79,237.63 L271.75,238.35 L272.71,239.07 L273.68,239.78 L274.64,240.49 L275.61,241.20 L276.59,241.90 L277.56,242.60 L278.54,243.30 L279.52,243.99 L280.50,244.68 L281.48,245.37 L282.47,246.06 L283.45,246.73 L284.44,247.41 L285.44,248.09 L286.43,248.76 L287.43,249.43 L288.43,250.09 L289.43,250.75 L290.43,251.41 L291.44,252.07 L292.44,252.72 L293.46,253.37 L294.47,254.01 L295.48,254.65 L296.50,255.29 L297.52,255.92 L298.54,256.56 L299.56,257.18 L300.58,257.81 L301.61,258.43 L302.64,259.05 L303.67,259.66 L304.70,260.27 L305.74,260.88 L306.78,261.48 L307.81,262.08 L308.85,262.68 L309.90,263.27 L310.94,263.87 L311.99,264.45 L313.04,265.03 L314.09,265.61 L315.14,266.19 L316.20,266.76 L317.25,267.33 L318.31,267.90 L319.37,268.46 L320.43,269.02 L321.50,269.57 L322.56,270.12 L323.63,270.67 L324.70,271.22 L325.77,271.76 L326.84,272.30 L327.92,272.83 L329.00,273.36 L330.07,273.89 L331.15,274.41 L332.24,274.93 L333.32,275.44 L334.40,275.95 L335.49,276.47 L336.58,276.97 L336.58,276.97 M356.45,285.43 L357.57,285.86 L358.69,286.29 L359.81,286.72 L360.93,287.14 L362.06,287.56 L363.18,287.98 L364.31,288.39 L365.44,288.80 L366.57,289.20 L367.70,289.60 L368.83,290.00 L369.97,290.39 L371.10,290.78 L372.24,291.17 L372.62,291.30" fill="none" stroke="#587eb6" stroke-width="1.25" stroke-dasharray="2.8 2.2"/>
<text x="163.90" y="94.90" font-family="Liberation Sans, sans-serif" font-size="10.5" fill="#3b498a" stroke="#3b498a" stroke-width="0.15">10<tspan font-size="6.8" dx="0.5" dy="-4.9" fill="#5f6da3" stroke="none">−5</tspan></text>
<text x="150.20" y="132.60" font-family="Liberation Sans, sans-serif" font-size="10.5" fill="#3b498a" stroke="#3b498a" stroke-width="0.15">10<tspan font-size="6.8" dx="0.5" dy="-4.9" fill="#5f6da3" stroke="none">−7</tspan></text>
<text x="135.30" y="167.70" font-family="Liberation Sans, sans-serif" font-size="10.5" fill="#3b498a" stroke="#3b498a" stroke-width="0.15">10<tspan font-size="6.8" dx="0.5" dy="-4.9" fill="#5f6da3" stroke="none">−8</tspan></text>
<text x="93.70" y="234.20" font-family="Liberation Sans, sans-serif" font-size="10.5" fill="#3b498a" stroke="#3b498a" stroke-width="0.15">10<tspan font-size="6.8" dx="0.5" dy="-4.9" fill="#5f6da3" stroke="none">−10</tspan></text>
<text x="289.80" y="126.00" font-family="Liberation Sans, sans-serif" font-size="10.5" fill="#3b498a" stroke="#3b498a" stroke-width="0.15">10<tspan font-size="6.8" dx="0.5" dy="-4.9" fill="#5f6da3" stroke="none">−6</tspan></text>
<text x="292.90" y="161.60" font-family="Liberation Sans, sans-serif" font-size="10.5" fill="#3b498a" stroke="#3b498a" stroke-width="0.15">10<tspan font-size="6.8" dx="0.5" dy="-4.9" fill="#5f6da3" stroke="none">−7</tspan></text>
<text x="261.40" y="198.80" font-family="Liberation Sans, sans-serif" font-size="10.5" fill="#3b498a" stroke="#3b498a" stroke-width="0.15">10<tspan font-size="6.8" dx="0.5" dy="-4.9" fill="#5f6da3" stroke="none">−8</tspan></text>
<text x="270.50" y="270.00" font-family="Liberation Sans, sans-serif" font-size="10.5" fill="#3b498a" stroke="#3b498a" stroke-width="0.15">10<tspan font-size="6.8" dx="0.5" dy="-4.9" fill="#5f6da3" stroke="none">−10</tspan></text>
<g transform="translate(86.40,259.30) rotate(54.0)"><text x="-5.0" y="3.4" font-family="Liberation Sans, sans-serif" font-size="9.8" fill="#1f5fe8" stroke="#1f5fe8" stroke-width="0.28">10<tspan font-size="7" dx="1.3" dy="-3.7" stroke="none" fill="#477fec">-10</tspan></text></g>
<g transform="translate(251.50,299.30) rotate(27.0)"><text x="-5.0" y="3.4" font-family="Liberation Sans, sans-serif" font-size="9.8" fill="#1f5fe8" stroke="#1f5fe8" stroke-width="0.28">10<tspan font-size="7" dx="1.3" dy="-3.7" stroke="none" fill="#477fec">-8</tspan></text></g>
<g transform="translate(302.70,291.70) rotate(27.0)"><text x="-5.0" y="3.4" font-family="Liberation Sans, sans-serif" font-size="9.8" fill="#1f5fe8" stroke="#1f5fe8" stroke-width="0.28">10<tspan font-size="7" dx="1.3" dy="-3.7" stroke="none" fill="#477fec">-7</tspan></text></g>
<g transform="translate(343.70,280.70) rotate(26.0)"><text x="-5.0" y="3.4" font-family="Liberation Sans, sans-serif" font-size="9.8" fill="#1f5fe8" stroke="#1f5fe8" stroke-width="0.28">10<tspan font-size="7" dx="1.3" dy="-3.7" stroke="none" fill="#477fec">-6</tspan></text></g>
<path d="M221.85,8.81 L222.47,11.72 L223.11,14.64 L223.75,17.56 L224.41,20.49 L225.07,23.42 L225.75,26.35 L226.44,29.28 L227.14,32.21 L227.85,35.15 L228.57,38.09 L229.31,41.02 L230.05,43.96 L230.81,46.90 L231.58,49.84 L232.37,52.78 L233.17,55.72 L233.97,58.65 L234.80,61.59 L235.63,64.52 L236.48,67.46 L237.35,70.39 L238.22,73.32 L239.11,76.24 L240.02,79.16 L240.94,82.08 L241.87,85.00 L242.82,87.91 L243.79,90.82 L244.77,93.72 L245.76,96.62 L246.77,99.51 L247.79,102.40 L248.84,105.28 L249.89,108.16 L250.97,111.03 L252.06,113.90 L253.16,116.75 L254.29,119.60 L255.43,122.44 L256.58,125.28 L257.76,128.10 L258.95,130.92 L260.16,133.73 L261.39,136.53 L262.63,139.32 L263.89,142.11 L265.18,144.88 L266.48,147.64 L267.79,150.39 L269.13,153.13 L270.49,155.86 L271.87,158.58 L273.26,161.28 L274.68,163.98 L276.11,166.66 L277.57,169.33 L279.04,171.99 L280.54,174.63 L282.05,177.26 L283.59,179.88 L285.15,182.48 L286.73,185.07 L288.33,187.64 L289.95,190.20 L291.59,192.74 L293.26,195.27 L294.94,197.78 L296.65,200.28 L298.38,202.76 L300.14,205.22 L301.91,207.67 L303.71,210.09 L305.53,212.51 L307.38,214.90 L309.25,217.27 L311.14,219.63 L313.06,221.96 L315.00,224.28 L316.96,226.58 L318.95,228.86 L320.96,231.12 L323.00,233.36 L325.06,235.57 L327.15,237.77 L329.26,239.95 L331.40,242.10 L333.57,244.23 L335.76,246.34 L337.97,248.43 L340.21,250.50 L342.48,252.54 L344.78,254.56 L347.10,256.55 L349.44,258.52 L351.82,260.47 L354.22,262.39 L356.65,264.29 L359.11,266.16 L361.59,268.01 L364.11,269.83 L366.65,271.62 L369.22,273.39 L371.81,275.13 L374.44,276.85 L374,8.6 Z" fill="#7f7f7f" fill-opacity="0.5" stroke="none"/>
<clipPath id="cw"><path d="M221.85,8.81 L222.47,11.72 L223.11,14.64 L223.75,17.56 L224.41,20.49 L225.07,23.42 L225.75,26.35 L226.44,29.28 L227.14,32.21 L227.85,35.15 L228.57,38.09 L229.31,41.02 L230.05,43.96 L230.81,46.90 L231.58,49.84 L232.37,52.78 L233.17,55.72 L233.97,58.65 L234.80,61.59 L235.63,64.52 L236.48,67.46 L237.35,70.39 L238.22,73.32 L239.11,76.24 L240.02,79.16 L240.94,82.08 L241.87,85.00 L242.82,87.91 L243.79,90.82 L244.77,93.72 L245.76,96.62 L246.77,99.51 L247.79,102.40 L248.84,105.28 L249.89,108.16 L250.97,111.03 L252.06,113.90 L253.16,116.75 L254.29,119.60 L255.43,122.44 L256.58,125.28 L257.76,128.10 L258.95,130.92 L260.16,133.73 L261.39,136.53 L262.63,139.32 L263.89,142.11 L265.18,144.88 L266.48,147.64 L267.79,150.39 L269.13,153.13 L270.49,155.86 L271.87,158.58 L273.26,161.28 L274.68,163.98 L276.11,166.66 L277.57,169.33 L279.04,171.99 L280.54,174.63 L282.05,177.26 L283.59,179.88 L285.15,182.48 L286.73,185.07 L288.33,187.64 L289.95,190.20 L291.59,192.74 L293.26,195.27 L294.94,197.78 L296.65,200.28 L298.38,202.76 L300.14,205.22 L301.91,207.67 L303.71,210.09 L305.53,212.51 L307.38,214.90 L309.25,217.27 L311.14,219.63 L313.06,221.96 L315.00,224.28 L316.96,226.58 L318.95,228.86 L320.96,231.12 L323.00,233.36 L325.06,235.57 L327.15,237.77 L329.26,239.95 L331.40,242.10 L333.57,244.23 L335.76,246.34 L337.97,248.43 L340.21,250.50 L342.48,252.54 L344.78,254.56 L347.10,256.55 L349.44,258.52 L351.82,260.47 L354.22,262.39 L356.65,264.29 L359.11,266.16 L361.59,268.01 L364.11,269.83 L366.65,271.62 L369.22,273.39 L371.81,275.13 L374.44,276.85 L374,8.6 Z"/></clipPath>
<g clip-path="url(#cw)"><path d="M216.33,8.61 L216.00,11.61 L215.66,14.61 L215.32,17.61 L214.98,20.61 L214.63,23.62 L214.28,26.62 L213.93,29.62 L213.57,32.63 L213.21,35.63 L212.84,38.64 L212.47,41.64 L212.10,44.64 L211.72,47.65 L211.33,50.65 L210.94,53.66 L210.54,56.66 L210.14,59.67 L209.73,62.67 L209.31,65.67 L208.88,68.67 L208.45,71.67 L208.01,74.67 L207.57,77.67 L207.11,80.67 L206.65,83.66 L206.18,86.66 L205.70,89.65 L205.21,92.64 L204.71,95.63 L204.20,98.62 L203.69,101.61 L203.16,104.59 L202.62,107.57 L202.07,110.55 L201.52,113.53 L200.95,116.50 L200.37,119.48 L199.77,122.45 L199.17,125.41 L198.55,128.38 L197.93,131.34 L197.29,134.30 L196.63,137.25 L195.97,140.20 L195.29,143.15 L194.59,146.10 L193.89,149.04 L193.17,151.98 L192.43,154.91 L191.68,157.84 L190.92,160.77 L190.14,163.69 L189.35,166.61 L188.54,169.52 L187.71,172.43 L186.87,175.33 L186.02,178.23 L185.14,181.13 L184.25,184.02 L183.35,186.90 L182.42,189.79 L181.48,192.66 L180.52,195.53 L179.55,198.40 L178.55,201.26 L177.54,204.11 L176.50,206.96 L175.45,209.80 L174.38,212.64 L173.29,215.47 L172.18,218.29 L171.05,221.11 L169.90,223.92 L168.72,226.71 L167.52,229.50 L166.30,232.27 L165.05,235.04 L163.77,237.78 L162.46,240.52 L161.13,243.24 L159.77,245.94 L158.37,248.62 L156.95,251.29 L155.50,253.93 L154.01,256.56 L152.48,259.16 L150.93,261.74 L149.34,264.30 L147.71,266.83 L146.04,269.34 L144.34,271.82 L142.59,274.27 L140.81,276.70 L138.98,279.09 L137.12,281.46 L135.21,283.79 L133.25,286.09 L131.26,288.36 L129.22,290.60 L127.14,292.80 L125.02,294.98 L122.87,297.12 L120.69,299.24 L118.48,301.33 L116.25,303.39 L113.99,305.43 L111.71,307.45 L109.41,309.44 L107.09,311.41 L104.76,313.36 L102.42,315.29 L100.07,317.20 L97.70,319.08 L95.31,320.93 L92.90,322.74 L90.47,324.51 L88.00,326.24 L85.51,327.92 L82.98,329.54 L80.42,331.11 L77.81,332.62 L75.17,334.06 L165.48,334.96 L167.44,332.55 L169.36,330.12 L171.23,327.67 L173.06,325.20 L174.84,322.71 L176.58,320.19 L178.28,317.66 L179.93,315.11 L181.54,312.54 L183.12,309.95 L184.65,307.34 L186.15,304.71 L187.60,302.07 L189.02,299.40 L190.40,296.73 L191.75,294.03 L193.05,291.32 L194.33,288.59 L195.57,285.85 L196.78,283.10 L197.95,280.33 L199.09,277.55 L200.20,274.75 L201.29,271.94 L202.34,269.12 L203.36,266.29 L204.35,263.44 L205.32,260.59 L206.25,257.72 L207.17,254.85 L208.05,251.96 L208.92,249.06 L209.75,246.16 L210.57,243.25 L211.36,240.33 L212.13,237.40 L212.88,234.46 L213.60,231.52 L214.31,228.57 L215.00,225.62 L215.67,222.66 L216.32,219.69 L216.96,216.72 L217.58,213.75 L218.18,210.77 L218.77,207.79 L219.35,204.80 L219.91,201.82 L220.45,198.83 L220.99,195.83 L221.51,192.84 L222.01,189.84 L222.51,186.84 L222.99,183.84 L223.46,180.83 L223.92,177.82 L224.36,174.81 L224.80,171.80 L225.22,168.79 L225.64,165.77 L226.04,162.75 L226.44,159.73 L226.82,156.71 L227.19,153.69 L227.56,150.67 L227.92,147.64 L228.26,144.62 L228.60,141.59 L228.94,138.56 L229.26,135.54 L229.58,132.51 L229.89,129.48 L230.19,126.45 L230.49,123.42 L230.78,120.38 L231.06,117.35 L231.34,114.32 L231.61,111.29 L231.88,108.26 L232.15,105.23 L232.40,102.19 L232.66,99.16 L232.91,96.13 L233.16,93.10 L233.40,90.07 L233.64,87.04 L233.88,84.02 L234.12,80.99 L234.35,77.96 L234.59,74.94 L234.82,71.91 L235.05,68.89 L235.28,65.87 L235.51,62.85 L235.73,59.83 L235.96,56.82 L236.19,53.80 L236.42,50.79 L236.65,47.78 L236.88,44.77 L237.11,41.76 L237.34,38.76 L237.58,35.76 L237.82,32.76 L238.06,29.76 L238.30,26.77 L238.55,23.77 L238.80,20.79 L239.05,17.80 L239.31,14.82 L239.58,11.84 L239.84,8.86 Z" fill="#c9b292" stroke="none"/>
<path d="M239.84,8.86 L239.58,11.84 L239.31,14.82 L239.05,17.80 L238.80,20.79 L238.55,23.77 L238.30,26.77 L238.06,29.76 L237.82,32.76 L237.58,35.76 L237.34,38.76 L237.11,41.76 L236.88,44.77 L236.65,47.78 L236.42,50.79 L236.19,53.80 L235.96,56.82 L235.73,59.83 L235.51,62.85 L235.28,65.87 L235.05,68.89 L234.82,71.91 L234.59,74.94 L234.35,77.96 L234.12,80.99 L233.88,84.02 L233.64,87.04 L233.40,90.07 L233.16,93.10 L232.91,96.13 L232.66,99.16 L232.40,102.19 L232.15,105.23 L231.88,108.26 L231.61,111.29 L231.34,114.32 L231.06,117.35 L230.78,120.38 L230.49,123.42 L230.19,126.45 L229.89,129.48 L229.58,132.51 L229.26,135.54 L228.94,138.56 L228.60,141.59 L228.26,144.62 L227.92,147.64 L227.56,150.67 L227.19,153.69 L226.82,156.71 L226.44,159.73 L226.04,162.75 L225.64,165.77 L225.22,168.79 L224.80,171.80 L224.36,174.81 L223.92,177.82 L223.46,180.83 L222.99,183.84 L222.51,186.84 L222.01,189.84 L221.51,192.84 L220.99,195.83 L220.45,198.83 L219.91,201.82 L219.35,204.80 L218.77,207.79 L218.18,210.77 L217.58,213.75 L216.96,216.72 L216.32,219.69 L215.67,222.66 L215.00,225.62 L214.31,228.57 L213.60,231.52 L212.88,234.46 L212.13,237.40 L211.36,240.33 L210.57,243.25 L209.75,246.16 L208.92,249.06 L208.05,251.96 L207.17,254.85 L206.25,257.72 L205.32,260.59 L204.35,263.44 L203.36,266.29 L202.34,269.12 L201.29,271.94 L200.20,274.75 L199.09,277.55 L197.95,280.33 L196.78,283.10 L195.57,285.85 L194.33,288.59 L193.05,291.32 L191.75,294.03 L190.40,296.73 L189.02,299.40 L187.60,302.07 L186.15,304.71 L184.65,307.34 L183.12,309.95 L181.54,312.54 L179.93,315.11 L178.28,317.66 L176.58,320.19 L174.84,322.71 L173.06,325.20 L171.23,327.67 L169.36,330.12 L167.44,332.55 L165.48,334.96" fill="none" stroke="#e0a850" stroke-width="1.2" stroke-dasharray="3.8 1.1"/></g>
<path d="M221.85,8.81 L222.47,11.72 L223.11,14.64 L223.75,17.56 L224.41,20.49 L225.07,23.42 L225.75,26.35 L226.44,29.28 L227.14,32.21 L227.85,35.15 L228.57,38.09 L229.31,41.02 L230.05,43.96 L230.81,46.90 L231.58,49.84 L232.37,52.78 L233.17,55.72 L233.97,58.65 L234.80,61.59 L235.63,64.52 L236.48,67.46 L237.35,70.39 L238.22,73.32 L239.11,76.24 L240.02,79.16 L240.94,82.08 L241.87,85.00 L242.82,87.91 L243.79,90.82 L244.77,93.72 L245.76,96.62 L246.77,99.51 L247.79,102.40 L248.84,105.28 L249.89,108.16 L250.97,111.03 L252.06,113.90 L253.16,116.75 L254.29,119.60 L255.43,122.44 L256.58,125.28 L257.76,128.10 L258.95,130.92 L260.16,133.73 L261.39,136.53 L262.63,139.32 L263.89,142.11 L265.18,144.88 L266.48,147.64 L267.79,150.39 L269.13,153.13 L270.49,155.86 L271.87,158.58 L273.26,161.28 L274.68,163.98 L276.11,166.66 L277.57,169.33 L279.04,171.99 L280.54,174.63 L282.05,177.26 L283.59,179.88 L285.15,182.48 L286.73,185.07 L288.33,187.64 L289.95,190.20 L291.59,192.74 L293.26,195.27 L294.94,197.78 L296.65,200.28 L298.38,202.76 L300.14,205.22 L301.91,207.67 L303.71,210.09 L305.53,212.51 L307.38,214.90 L309.25,217.27 L311.14,219.63 L313.06,221.96 L315.00,224.28 L316.96,226.58 L318.95,228.86 L320.96,231.12 L323.00,233.36 L325.06,235.57 L327.15,237.77 L329.26,239.95 L331.40,242.10 L333.57,244.23 L335.76,246.34 L337.97,248.43 L340.21,250.50 L342.48,252.54 L344.78,254.56 L347.10,256.55 L349.44,258.52 L351.82,260.47 L354.22,262.39 L356.65,264.29 L359.11,266.16 L361.59,268.01 L364.11,269.83 L366.65,271.62 L369.22,273.39 L371.81,275.13 L374.44,276.85" fill="none" stroke="#5e5e5e" stroke-width="1.1"/>
<path d="M270.00,8.60 L372.00,171.50 L372,8.6 Z" fill="#dbdbdb" stroke="none"/>
<path d="M270.00,8.60 L372.00,171.50" fill="none" stroke="#5e5e5e" stroke-width="1.0"/>
</g>
<rect x="45.50" y="8.50" width="326.50" height="325.90" fill="none" stroke="#000" stroke-width="0.52"/>
<path d="M45.50,334.40 v-2.60 M45.50,8.50 v2.60 M56.38,334.40 v-1.50 M56.38,8.50 v1.50 M67.27,334.40 v-1.50 M67.27,8.50 v1.50 M78.15,334.40 v-1.50 M78.15,8.50 v1.50 M89.03,334.40 v-1.50 M89.03,8.50 v1.50 M99.92,334.40 v-2.60 M99.92,8.50 v2.60 M110.80,334.40 v-1.50 M110.80,8.50 v1.50 M121.68,334.40 v-1.50 M121.68,8.50 v1.50 M132.57,334.40 v-1.50 M132.57,8.50 v1.50 M143.45,334.40 v-1.50 M143.45,8.50 v1.50 M154.33,334.40 v-2.60 M154.33,8.50 v2.60 M165.22,334.40 v-1.50 M165.22,8.50 v1.50 M176.10,334.40 v-1.50 M176.10,8.50 v1.50 M186.98,334.40 v-1.50 M186.98,8.50 v1.50 M197.87,334.40 v-1.50 M197.87,8.50 v1.50 M208.75,334.40 v-2.60 M208.75,8.50 v2.60 M219.63,334.40 v-1.50 M219.63,8.50 v1.50 M230.52,334.40 v-1.50 M230.52,8.50 v1.50 M241.40,334.40 v-1.50 M241.40,8.50 v1.50 M252.28,334.40 v-1.50 M252.28,8.50 v1.50 M263.17,334.40 v-2.60 M263.17,8.50 v2.60 M274.05,334.40 v-1.50 M274.05,8.50 v1.50 M284.93,334.40 v-1.50 M284.93,8.50 v1.50 M295.82,334.40 v-1.50 M295.82,8.50 v1.50 M306.70,334.40 v-1.50 M306.70,8.50 v1.50 M317.58,334.40 v-2.60 M317.58,8.50 v2.60 M328.47,334.40 v-1.50 M328.47,8.50 v1.50 M339.35,334.40 v-1.50 M339.35,8.50 v1.50 M350.23,334.40 v-1.50 M350.23,8.50 v1.50 M361.12,334.40 v-1.50 M361.12,8.50 v1.50 M372.00,334.40 v-2.60 M372.00,8.50 v2.60 M45.50,334.40 h3.60 M372.00,334.40 h-3.60 M45.50,298.19 h2.00 M372.00,298.19 h-2.00 M45.50,261.98 h2.00 M372.00,261.98 h-2.00 M45.50,225.77 h3.60 M372.00,225.77 h-3.60 M45.50,189.56 h2.00 M372.00,189.56 h-2.00 M45.50,153.34 h2.00 M372.00,153.34 h-2.00 M45.50,117.13 h3.60 M372.00,117.13 h-3.60 M45.50,80.92 h2.00 M372.00,80.92 h-2.00 M45.50,44.71 h2.00 M372.00,44.71 h-2.00 M45.50,8.50 h3.60 M372.00,8.50 h-3.60" fill="none" stroke="#000" stroke-width="0.75"/>
<text x="45.50" y="347.9" font-family="Liberation Serif, serif" font-size="15" text-anchor="middle" fill="#000">2.1</text>
<text x="99.92" y="347.9" font-family="Liberation Serif, serif" font-size="15" text-anchor="middle" fill="#000">2.2</text>
<text x="154.33" y="347.9" font-family="Liberation Serif, serif" font-size="15" text-anchor="middle" fill="#000">2.3</text>
<text x="208.75" y="347.9" font-family="Liberation Serif, serif" font-size="15" text-anchor="middle" fill="#000">2.4</text>
<text x="263.17" y="347.9" font-family="Liberation Serif, serif" font-size="15" text-anchor="middle" fill="#000">2.5</text>
<text x="317.58" y="347.9" font-family="Liberation Serif, serif" font-size="15" text-anchor="middle" fill="#000">2.6</text>
<text x="372.00" y="347.9" font-family="Liberation Serif, serif" font-size="15" text-anchor="middle" fill="#000">2.7</text>
<text x="43.4" y="339.00" font-family="Liberation Serif, serif" font-size="15" text-anchor="end" fill="#000">10<tspan font-size="10.5" dy="-5.3" dx="-0.9">7</tspan></text>
<text x="43.4" y="230.37" font-family="Liberation Serif, serif" font-size="15" text-anchor="end" fill="#000">10<tspan font-size="10.5" dy="-5.3" dx="0">10</tspan></text>
<text x="43.4" y="121.73" font-family="Liberation Serif, serif" font-size="15" text-anchor="end" fill="#000">10<tspan font-size="10.5" dy="-5.3" dx="0">13</tspan></text>
<text x="43.4" y="13.10" font-family="Liberation Serif, serif" font-size="15" text-anchor="end" fill="#000">10<tspan font-size="10.5" dy="-5.3" dx="0">16</tspan></text>
<text x="209" y="366" font-family="Liberation Serif, serif" font-size="14" text-anchor="middle" fill="#000">Δ</text>
<text transform="translate(11.6,171.5) rotate(-90)" font-family="Liberation Serif, serif" font-size="14.3" text-anchor="middle" fill="#000"><tspan font-style="italic">M</tspan><tspan font-style="italic" font-size="10" dy="3">N</tspan><tspan dy="-3">(GeV)</tspan></text>
<text transform="translate(330.9,54.9) rotate(58.4)" font-family="Liberation Serif, serif" font-size="13.9" text-anchor="middle" fill="#111">Perturbativity</text>
<text y="182.5" font-family="Liberation Serif, serif" font-size="14" fill="#111"><tspan x="284">ΔL</tspan><tspan x="305.7">=</tspan><tspan x="316.7">2</tspan><tspan x="325.8">washout</tspan></text>
<text transform="translate(134.6,274.2) rotate(-43.5)" font-family="Liberation Serif, serif" font-size="10.5" text-anchor="middle" fill="#ee6f14" stroke="#ee6f14" stroke-width="0.15">K = 1</text>
<text transform="translate(200.4,307.0) rotate(-60.5)" font-family="Liberation Serif, serif" font-size="10.5" word-spacing="-0.6" text-anchor="middle" fill="#ee6f14" stroke="#ee6f14" stroke-width="0.15">K / c = 1</text>
</svg>
</body></html>
